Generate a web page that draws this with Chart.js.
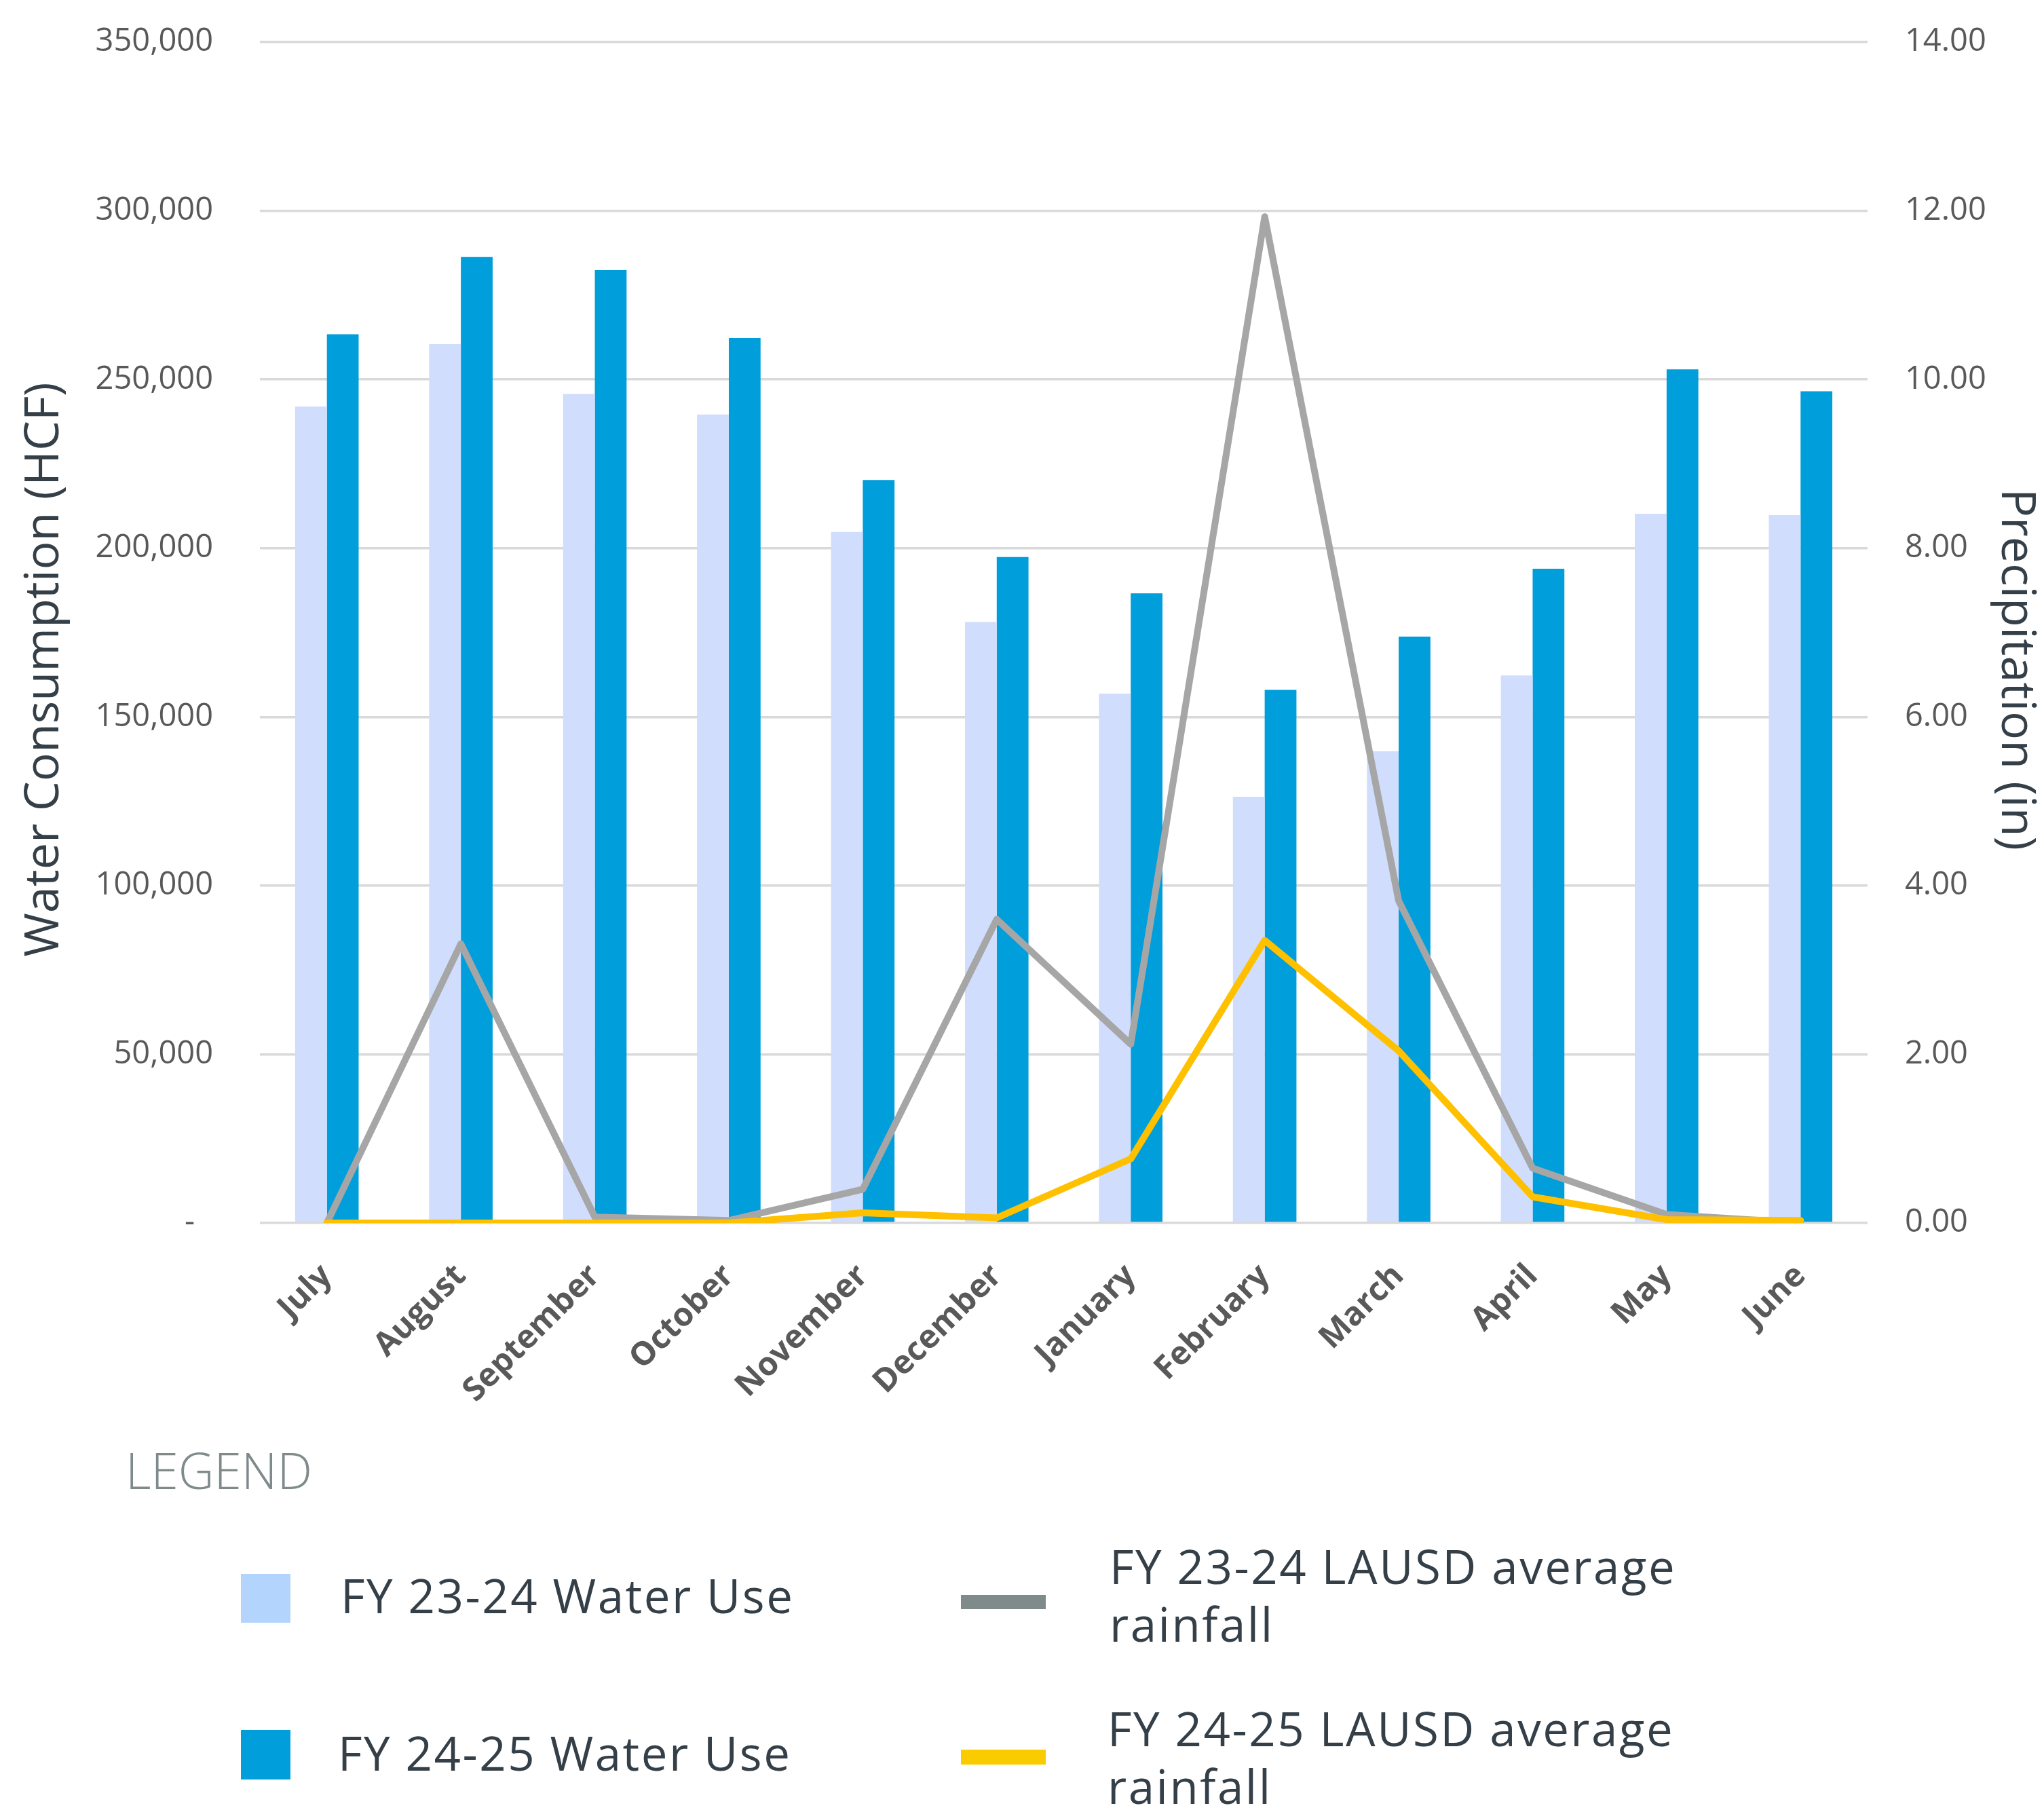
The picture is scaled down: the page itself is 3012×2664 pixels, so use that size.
<!DOCTYPE html>
<html>
<head>
<meta charset="utf-8">
<script src="https://cdn.jsdelivr.net/npm/chart.js@4.4.1/dist/chart.umd.min.js"></script>
<style>
  html, body { margin: 0; padding: 0; background: #ffffff; }
  body { width: 3012px; height: 2664px; position: relative; overflow: hidden; font-family: "Open Sans", "DejaVu Sans", sans-serif; }
  #wrap { position: absolute; left: 0; top: 0; width: 3012px; height: 2080px; }
  .lg { position: absolute; white-space: nowrap; color: #343F48; font-size: 69px; line-height: 85px; letter-spacing: 2.5px; }
  .sw { position: absolute; }
  #legendTitle { position: absolute; left: 185px; top: 2116px; font-size: 73px; line-height: 99px; font-weight: 300; color: #7F8A8B; white-space: nowrap; }
</style>
</head>
<body>
<div id="wrap"><canvas id="c" width="3012" height="2080"></canvas></div>

<div id="legendTitle">LEGEND</div>
<div class="sw" style="left:355px; top:2319px; width:73px; height:72px; background:#B3D4FD;"></div>
<div class="lg" id="l1" style="left:502px; top:2308px;"></div>
<div class="sw" style="left:355px; top:2549px; width:73px; height:73px; background:#009FDB;"></div>
<div class="lg" id="l2" style="left:498px; top:2540px;"></div>
<div class="sw" style="left:1416px; top:2350px; width:125px; height:21px; background:#7F8A8B;"></div>
<div class="lg" id="l3" style="left:1635px; top:2265px;"></div>
<div class="sw" style="left:1416px; top:2578px; width:125px; height:22px; background:#FACC00;"></div>
<div class="lg" id="l4" style="left:1632px; top:2504px;"></div>

<script>
// ---- Data ----
const months = ['July', 'August', 'September', 'October', 'November', 'December', 'January', 'February', 'March', 'April', 'May', 'June'];
const water2324 = [242000, 260500, 245700, 239600, 204800, 178100, 156900, 126300, 139800, 162300, 210200, 209800];
const water2425 = [263400, 286300, 282400, 262300, 220200, 197400, 186600, 158000, 173800, 193900, 253000, 246500];
const rain2324 = [0.00, 3.31, 0.07, 0.03, 0.40, 3.60, 2.12, 11.93, 3.82, 0.65, 0.10, 0.00];
const rain2425 = [0.00, 0.00, 0.00, 0.00, 0.12, 0.06, 0.76, 3.35, 2.04, 0.31, 0.04, 0.03];
const seriesLabels = ['FY 23-24 Water Use', 'FY 24-25 Water Use', 'FY 23-24 LAUSD average rainfall', 'FY 24-25 LAUSD average rainfall'];
const leftTicks = [0, 50000, 100000, 150000, 200000, 250000, 300000, 350000];
const rightTicks = [0, 2, 4, 6, 8, 10, 12, 14];
const leftTitle = 'Water Consumption (HCF)';
const rightTitle = 'Precipitation (in)';

// ---- Legend text ----
document.getElementById('l1').textContent = seriesLabels[0];
document.getElementById('l2').textContent = seriesLabels[1];
document.getElementById('l3').innerHTML = 'FY 23-24 LAUSD average<br>rainfall';
document.getElementById('l4').innerHTML = 'FY 24-25 LAUSD average<br>rainfall';

const FONT = '"Open Sans", "DejaVu Sans", sans-serif';
const NB = '\u00A0\u00A0\u00A0\u00A0\u00A0\u00A0';

new Chart(document.getElementById('c'), {
  type: 'bar',
  data: {
    labels: months,
    datasets: [
      { type: 'line', label: seriesLabels[3], data: rain2425, yAxisID: 'y1', borderColor: '#FFC000', backgroundColor: '#FFC000',
        borderWidth: 10, pointRadius: 0, tension: 0, borderCapStyle: 'round', borderJoinStyle: 'round', order: 0 },
      { type: 'line', label: seriesLabels[2], data: rain2324, yAxisID: 'y1', borderColor: '#A6A6A6', backgroundColor: '#A6A6A6',
        borderWidth: 10, pointRadius: 0, tension: 0, borderCapStyle: 'round', borderJoinStyle: 'round', order: 1 },
      { label: seriesLabels[0], data: water2324, yAxisID: 'y', backgroundColor: '#D0DDFC', borderWidth: 0,
        categoryPercentage: 0.474, barPercentage: 1.0, order: 2 },
      { label: seriesLabels[1], data: water2425, yAxisID: 'y', backgroundColor: '#009EDB', borderWidth: 0,
        categoryPercentage: 0.474, barPercentage: 1.0, order: 3 }
    ]
  },
  options: {
    responsive: false,
    maintainAspectRatio: false,
    devicePixelRatio: 1,
    animation: false,
    layout: { padding: { top: 62, right: 0, bottom: 0, left: 0 } },
    plugins: { legend: { display: false }, tooltip: { enabled: false } },
    scales: {
      x: {
        grid: { display: false, drawTicks: false, tickLength: 0 },
        border: { display: false },
        ticks: {
          autoSkip: false, maxRotation: 45, minRotation: 45, padding: 50,
          color: '#595959', font: { family: FONT, size: 48, weight: 'bold' }
        },
        afterFit: (s) => { s.height = 278; s.paddingLeft = 0; s.paddingRight = 0; }
      },
      y: {
        position: 'left',
        min: leftTicks[0], max: leftTicks[leftTicks.length - 1],
        afterBuildTicks: (s) => { s.ticks = leftTicks.map(v => ({ value: v })); },
        grid: { color: '#D9D9D9', lineWidth: 3.5, drawTicks: false, tickLength: 0 },
        border: { display: false },
        ticks: {
          padding: 69, color: '#595959', font: { family: FONT, size: 47 },
          callback: (v) => v === 0 ? '-\u2007' : v.toLocaleString('en-US')
        },
        title: { display: true, text: leftTitle + NB, color: '#343F48', font: { family: FONT, size: 70 }, padding: { top: 24, bottom: 0 } },
        afterFit: (s) => { s.width = 383; s.paddingTop = 0; s.paddingBottom = 0; }
      },
      y1: {
        position: 'right',
        min: rightTicks[0], max: rightTicks[rightTicks.length - 1],
        afterBuildTicks: (s) => { s.ticks = rightTicks.map(v => ({ value: v })); },
        grid: { display: false, drawOnChartArea: false, drawTicks: false, tickLength: 0 },
        border: { display: false },
        ticks: {
          padding: 55, color: '#595959', font: { family: FONT, size: 47 },
          callback: (v) => Number(v).toFixed(2)
        },
        title: { display: true, text: NB + rightTitle, color: '#343F48', font: { family: FONT, size: 70 }, padding: { top: 0, bottom: 0 } },
        afterFit: (s) => { s.width = 260; s.paddingTop = 0; s.paddingBottom = 0; }
      }
    }
  }
});
</script>
</body>
</html>
